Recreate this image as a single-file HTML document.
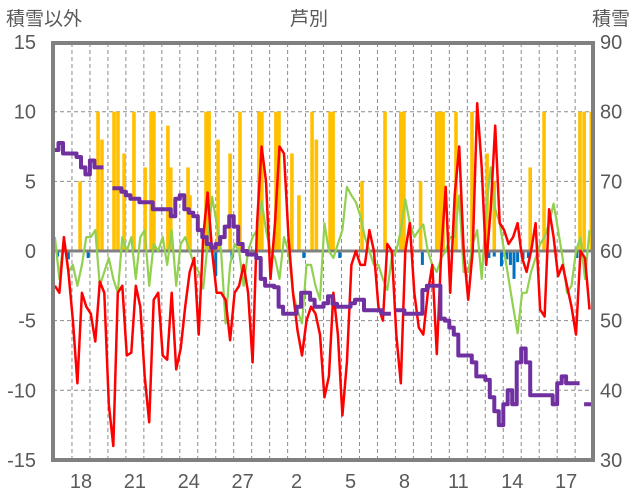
<!DOCTYPE html>
<html><head><meta charset="utf-8"><style>
body{margin:0;background:#fff;}
svg{display:block;font-family:"Liberation Sans","Noto Sans CJK JP",sans-serif;}
</style></head><body>
<svg id="chart" width="636" height="501" viewBox="0 0 636 501" xmlns="http://www.w3.org/2000/svg">
<text x="6" y="25" font-size="19" fill="#595959">積雪以外</text>
<text x="309" y="25" font-size="19" fill="#595959" text-anchor="middle">芦別</text>
<text x="630" y="25" font-size="19" fill="#595959" text-anchor="end">積雪</text>
<g id="grid"></g><g id="bars"></g><g id="lines"></g><g id="axes"></g>
</svg>
<script>
const leftTicks=[15,10,5,0,-5,-10,-15];
const rightTicks=[90,80,70,60,50,40,30];
const dayLabels=["18","21","24","27","2","5","8","11","14","17"];
const dayLabelIdx=[1,4,7,10,13,16,19,22,25,28];
const redTemp=[-2.5,-3,1,-1.5, -5,-9.5,-3,-4, -4.5,-6.5,-2.2,-3, -11,-14,-3,-2.5, -7.5,-7.3,-2.5,-4,
 -9,-12.3,-3.5,-3, -7.5,-7.8,-3,-8.5, -7,-4,-1.5,-0.5, -6,1,4.2,0, -3,-3,-3.5,-6.4,
 -3,-2.5,-1,-3, -8,2,7.5,5, -2,2,7.5,7, 1,-3,-5.7,-7.5, -5,-4,-4.5,-6,
 -10.5,-9,-3,-6, -11.8,-8,-1,0, -1,-1,1.5,0, -4,-5,0.5,0, -6,-9.5,0,2,
 -3,-5.5,-6,-3, -1,-7.4,0,4.6, -3,4,7.5,0, -3.5,0,10.6,6, -1,3,9,2,
 1.5,0.5,1,2, -0.5,-1.5,0,2, -4.2,-4.7,3,1, -1.8,-1,-2.5,-4, -6,0,-0.5,-4.2];
const greenVal=[1,-2,1,-1.5, -1,-2.5,-1,1, 1,1.5,-2.5,-1.5, -0.5,-2,-3,1, 0,1,-2,1,
 1.5,-2.5,0.5,0, 1,-1,1.5,-2.5, 0.5,1,0,-1, -1.5,-2.7,0.5,3.9, 2,0,-5.2,-1,
 0.5,0,-2.5,0, 1,1.5,3.6,1.5, 0,-0.5,-2,1, 0,-3,-4.3,-5.2, -1,-1,-2.5,-3.5,
 2,0,-0.5,0.5, 1.5,4.6,4,3.5, 2.5,1,0,-1, -1,-2,-2.8,-0.5, 0,1.5,3.7,2,
 1,1.5,1.9,0, -1,-1.5,-0.5,0, 1,1,4,-1.5, -1.5,0.5,1.5,-2, 3,6,3,2,
 0,-2,-4,-5.9, -3,-3,-1.5,-0.5, 0.5,1,2,3.4, 1.5,-0.5,-3,-2.5, 0,1,-2,1.5];
const snowDepth=[74.5,75.5,74,74, 74,73.5,72,71, 73,72,72,null, null,69,69,68.5, 68,67.5,67.5,67,
 67,67,66,66, 66,66,65,67.5, 68,66,65.5,65, 63,62,61,60.5, 61,62,63.5,65,
 63.5,61,60,59.5, 59.5,59,56,55, 55,54.8,52,51, 51,51,52,54, 54,53,52,52,
 52.5,53.5,52.4,52, 52,52,52.5,53, 53,51.5,51.5,51.5, 51.5,51,51,null, 51.5,51.5,51,51,
 51,51,54.4,55, 55,55,50.3,50, 49,48,45,45, 45,44,42,42, 41.5,39,37,35,
 38,40,38,44, 46,44,39.3,39.3, 39.3,39.3,39.3,38, 41,42,41,41, 41,null,38,38];
const snowfallT=[1.45,2.45,2.67,3.34,3.56,3.9,4.45,5.07,5.4,5.56,6.34,6.5,7.46,7.57,8.46,8.63,9.13,9.8,10.35,11.4,11.57,12.35,12.52,13.24,13.63,14.36,14.6,15.36,15.53,17.14,18.42,19.3,19.47,20.4,21.3,21.5,21.65,22.37,23.26,24.1,24.5,26.5,27.27,29.27,29.5,29.9];
const snowfallV=[5,10,8,10,10,7,10,6,10,10,9,6,6,4,10,10,8,7,10,10,10,10,10,7,4,10,8,10,10,5,10,10,10,5,10,10,10,10,10,7,5,6,10,10,10,10];
const meltT=[0.2,0.8,1.9,9.0,9.9,13.9,15.9,20.5,24.2,24.5,24.9,25.2,25.4,25.6,25.8,26.1,26.4,29.1];
const meltV=[-0.4,-0.6,-0.5,-1.8,-0.6,-0.5,-0.5,-1,-0.5,-0.4,-1.1,-0.6,-1,-2,-0.8,-0.6,-0.5,-0.5];

const NS="http://www.w3.org/2000/svg";
const X0=54,DAY=17.97,PL=53,PR=593,PT=43,PB=460;
const xs=t=>X0+t*DAY;
const yL=v=>251-v*13.93;
const yR=v=>yL((v-60)/2);
function mk(tag,attrs,parent){const e=document.createElementNS(NS,tag);for(const k in attrs)e.setAttribute(k,attrs[k]);parent.appendChild(e);return e;}
const grid=document.getElementById('grid'),bars=document.getElementById('bars'),lines=document.getElementById('lines'),axes=document.getElementById('axes');
leftTicks.forEach((v,i)=>{
  if(v!==0&&Math.abs(v)!==15){const l=mk('line',{x1:PL,x2:PR,y1:yL(v),y2:yL(v),stroke:'#8c8c8c','stroke-width':1,'stroke-dasharray':'4,3'},grid);
  
  }
  const t=mk('text',{x:36,y:yL(v)+7,'font-size':20,fill:'#595959','text-anchor':'end'},axes);t.textContent=v;
  
  
  const r=mk('text',{x:600,y:yL(v)+7,'font-size':20,fill:'#595959'},axes);r.textContent=rightTicks[i];
  
  
});
for(let d=1;d<30;d++){const l=mk('line',{x1:xs(d),x2:xs(d),y1:PT,y2:PB,stroke:'#8c8c8c','stroke-width':1,'stroke-dasharray':'4,3'},grid);
  
  }
dayLabels.forEach((s,i)=>{const t=mk('text',{x:xs(dayLabelIdx[i]+0.5),y:488,'font-size':20,fill:'#595959','text-anchor':'middle'},axes);t.textContent=s;
  
  });
snowfallT.forEach((t,i)=>{const v=snowfallV[i];const b=mk('rect',{x:xs(t)-1.8,y:yL(v),width:3.6,height:yL(0)-yL(v),fill:'#ffc000'},bars);
  
  });
meltT.forEach((t,i)=>{const v=meltV[i];const b=mk('rect',{x:xs(t)-1.5,y:yL(0),width:3,height:yL(v)-yL(0),fill:'#0070c0'},bars);
  
  });
function path(arr,yf){let d='',pen=false;arr.forEach((v,i)=>{if(v===null){pen=false;return;}const x=xs(i*0.25+0.05),y=yf(v);d+=(pen?'L':'M')+x.toFixed(1)+','+y.toFixed(1);pen=true;});return d;}
function stepPath(arr,yf){let d='',pen=false,py=0;arr.forEach((v,i)=>{if(v===null){pen=false;return;}const x=xs(i*0.25),y=yf(v);if(!pen){d+='M'+x.toFixed(1)+','+y.toFixed(1);}else{d+='L'+x.toFixed(1)+','+py.toFixed(1)+'L'+x.toFixed(1)+','+y.toFixed(1);}d+='L'+(x+DAY*0.25).toFixed(1)+','+y.toFixed(1);py=y;pen=true;});return d;}
const z=mk('line',{x1:PL,x2:PR,y1:yL(0),y2:yL(0),stroke:'#808080','stroke-width':3},lines);


const g=mk('path',{d:path(greenVal,yL),fill:'none',stroke:'#92d050','stroke-width':2.2,'stroke-linejoin':'round'},lines);


const r=mk('path',{d:path(redTemp,yL),fill:'none',stroke:'#ff0000','stroke-width':2.5,'stroke-linejoin':'round'},lines);


const p=mk('path',{d:stepPath(snowDepth,yR),fill:'none',stroke:'#7030a0','stroke-width':4,'stroke-linejoin':'round'},lines);


const fr=mk('rect',{x:PL,y:PT,width:PR-PL,height:PB-PT,fill:'none',stroke:'#808080','stroke-width':4},axes);


</script>
</body></html>
